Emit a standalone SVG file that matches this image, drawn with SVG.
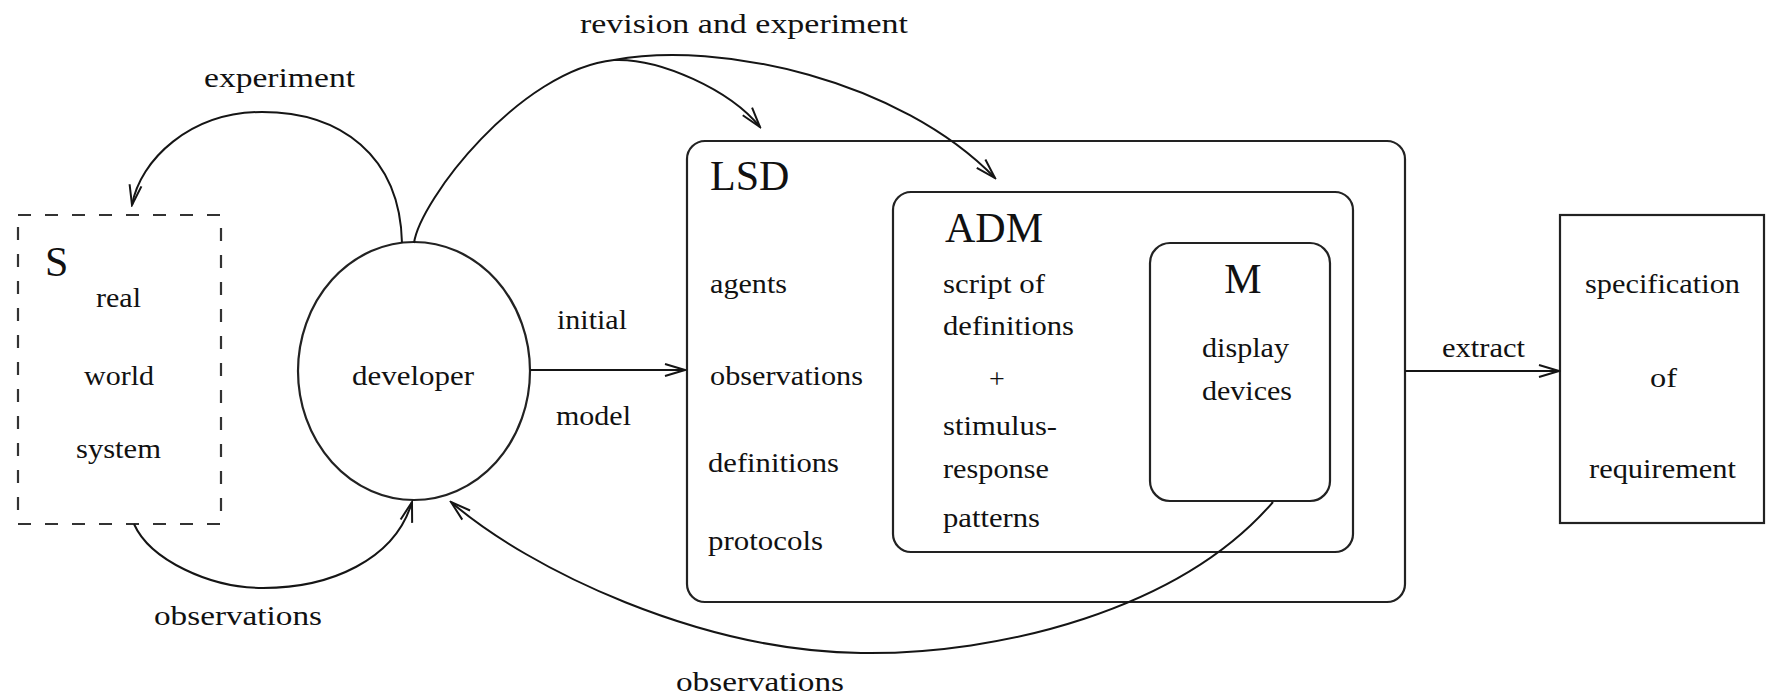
<svg xmlns="http://www.w3.org/2000/svg" width="1766" height="697" viewBox="0 0 1766 697">
<style>
.t{font-family:"Liberation Serif","Times New Roman",serif;font-size:28px;fill:#111}
.big{font-family:"Liberation Serif","Times New Roman",serif;font-size:42px;fill:#111}
.ln{fill:none;stroke:#151515;stroke-width:2}
.box{fill:none;stroke:#222;stroke-width:2.2}
</style>
<defs>
<marker id="arr" viewBox="0 0 24 16" refX="22" refY="8" markerWidth="24" markerHeight="16" orient="auto" markerUnits="userSpaceOnUse">
<path d="M2,2 L22,8 L2,14" fill="none" stroke="#151515" stroke-width="2"/>
</marker>
</defs>
<rect width="1766" height="697" fill="#fff"/>

<g id="node-S">
<rect x="18" y="215" width="203" height="309" fill="none" stroke="#333" stroke-width="2.2" stroke-dasharray="13,14"/>
<text class="big" x="45" y="276">S</text>
<text class="t" x="96" y="307" textLength="45" lengthAdjust="spacingAndGlyphs">real</text>
<text class="t" x="84" y="385" textLength="70" lengthAdjust="spacingAndGlyphs">world</text>
<text class="t" x="76" y="458" textLength="85" lengthAdjust="spacingAndGlyphs">system</text>
</g>

<g id="node-developer">
<ellipse cx="414" cy="371" rx="116" ry="129" class="box"/>
<text class="t" x="352" y="385" textLength="122" lengthAdjust="spacingAndGlyphs">developer</text>
</g>

<g id="node-LSD">
<rect x="687" y="141" width="718" height="461" rx="18" class="box"/>
<text class="big" x="710" y="190">LSD</text>
<text class="t" x="710" y="293" textLength="77" lengthAdjust="spacingAndGlyphs">agents</text>
<text class="t" x="710" y="385" textLength="153" lengthAdjust="spacingAndGlyphs">observations</text>
<text class="t" x="708" y="472" textLength="131" lengthAdjust="spacingAndGlyphs">definitions</text>
<text class="t" x="708" y="550" textLength="115" lengthAdjust="spacingAndGlyphs">protocols</text>
</g>

<g id="node-ADM">
<rect x="893" y="192" width="460" height="360" rx="18" class="box"/>
<text class="big" x="945" y="242">ADM</text>
<text class="t" x="943" y="293" textLength="102" lengthAdjust="spacingAndGlyphs">script of</text>
<text class="t" x="943" y="335" textLength="131" lengthAdjust="spacingAndGlyphs">definitions</text>
<text class="t" x="997" y="388" text-anchor="middle">+</text>
<text class="t" x="943" y="435" textLength="114" lengthAdjust="spacingAndGlyphs">stimulus-</text>
<text class="t" x="943" y="478" textLength="106" lengthAdjust="spacingAndGlyphs">response</text>
<text class="t" x="943" y="527" textLength="97" lengthAdjust="spacingAndGlyphs">patterns</text>
</g>

<g id="node-M">
<rect x="1150" y="243" width="180" height="258" rx="20" class="box"/>
<text class="big" x="1243" y="293" text-anchor="middle">M</text>
<text class="t" x="1202" y="357" textLength="87" lengthAdjust="spacingAndGlyphs">display</text>
<text class="t" x="1202" y="400" textLength="90" lengthAdjust="spacingAndGlyphs">devices</text>
</g>

<g id="node-spec">
<rect x="1560" y="215" width="204" height="308" class="box"/>
<text class="t" x="1585" y="293" textLength="155" lengthAdjust="spacingAndGlyphs">specification</text>
<text class="t" x="1650" y="387" textLength="27" lengthAdjust="spacingAndGlyphs">of</text>
<text class="t" x="1589" y="478" textLength="147" lengthAdjust="spacingAndGlyphs">requirement</text>
</g>

<g id="connectors">
<path class="ln" d="M402,243 C400,155 340,112 262,112 C190,112 140,160 132,205" marker-end="url(#arr)"/>
<path class="ln" d="M414,243 C420,200 520,70 614,60 C660,58 730,90 760,127" marker-end="url(#arr)"/>
<path class="ln" d="M614,60 C720,40 900,80 995,178" marker-end="url(#arr)"/>
<path class="ln" d="M134,524 C150,560 210,588 263,588 C330,588 395,560 412,502" marker-end="url(#arr)"/>
<path class="ln" d="M1273,502 C1180,610 1000,655 861,653 C700,651 530,570 451,502" marker-end="url(#arr)"/>
<path class="ln" d="M530,370 L685,370" marker-end="url(#arr)"/>
<path class="ln" d="M1405,371 L1559,371" marker-end="url(#arr)"/>
<text class="t" x="204" y="87" textLength="151" lengthAdjust="spacingAndGlyphs">experiment</text>
<text class="t" x="580" y="33" textLength="328" lengthAdjust="spacingAndGlyphs">revision and experiment</text>
<text class="t" x="557" y="329" textLength="70" lengthAdjust="spacingAndGlyphs">initial</text>
<text class="t" x="556" y="425" textLength="75" lengthAdjust="spacingAndGlyphs">model</text>
<text class="t" x="154" y="625" textLength="168" lengthAdjust="spacingAndGlyphs">observations</text>
<text class="t" x="676" y="691" textLength="168" lengthAdjust="spacingAndGlyphs">observations</text>
<text class="t" x="1442" y="357" textLength="83" lengthAdjust="spacingAndGlyphs">extract</text>
</g>
</svg>
